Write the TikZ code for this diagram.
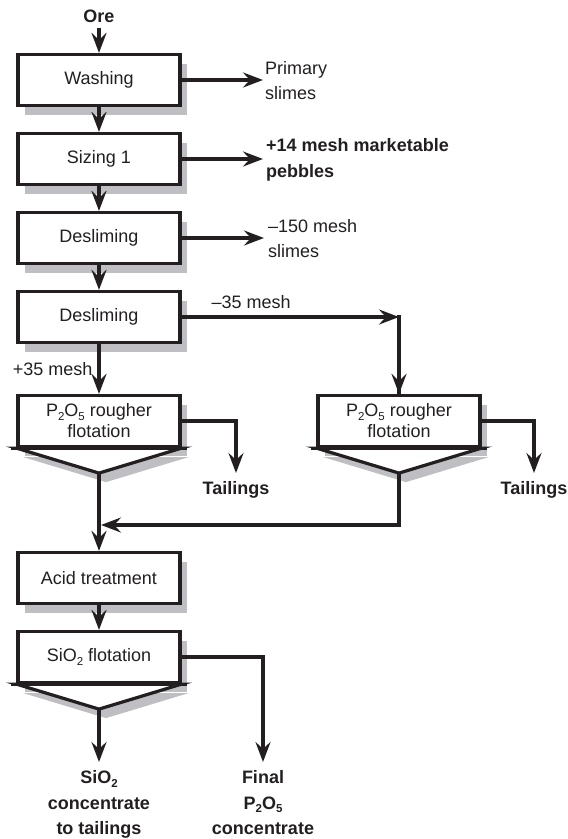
\documentclass[tikz,border=0pt]{standalone}
\usepackage{fontspec}
\setmainfont{Liberation Sans}
\usetikzlibrary{arrows.meta,shadows,calc}

\definecolor{ink}{RGB}{35,31,32}
\definecolor{shadowgrey}{RGB}{190,190,195}

% chemical subscript in the running font
\newcommand\chemsub[1]{\raisebox{-3.5pt}{\fontsize{11.5}{11.5}\selectfont #1}}

% V-shaped separator under a flotation cell: #1 = node name
\newcommand\flotcell[1]{%
  \coordinate (#1-apex) at ($(#1.south)+(0,25)$);
  \fill[shadowgrey] ($(#1.south west)+(7,9)$) -- ($(#1-apex)+(7,9)$)
        -- ($(#1.south east)+(7,9)$) -- cycle;
  \filldraw[fill=white, draw=ink, line width=3.2pt, line join=miter]
        (#1.south west) -- (#1-apex) -- (#1.south east) -- cycle;
  \draw[ink, line width=3.2pt] ($(#1.south west)+(-5,0)$) -- ($(#1.south east)+(5,0)$);
}

\begin{document}
\begin{tikzpicture}[x=1pt,y=-1pt,
  every node/.style={font=\fontsize{18}{21}\selectfont, text=ink},
  unit/.style={draw=ink, line width=3.2pt, fill=white,
    minimum width=162pt, minimum height=51pt, inner sep=0pt, align=center,
    drop shadow={shadow xshift=7pt, shadow yshift=-9pt, fill=shadowgrey, opacity=1}},
  flow/.style={draw=ink, line width=3.2pt,
    -{Stealth[length=20pt,width=15pt,inset=7pt]}},
  sidelbl/.style={align=left, anchor=west, inner sep=0pt,
    font=\fontsize{18}{25}\selectfont},
  outlbl/.style={align=center, anchor=north, inner sep=0pt,
    font=\bfseries\fontsize{18}{25.5}\selectfont},
]
\useasboundingbox (0,0) rectangle (568,839);

% feed
\node[outlbl] (ore) at (99,9.5) {Ore};

% main column of unit operations
\node[unit] (wash)  at (99,80)  {Washing};
\node[unit] (size)  at (99,159) {Sizing 1};
\node[unit] (desA)  at (99,238) {Desliming};
\node[unit] (desB)  at (99,317) {Desliming};
\node[unit] (roughL) at (99,421) {P\chemsub{2}O\chemsub{5} rougher\\flotation};
\node[unit] (roughR) at (399,421) {P\chemsub{2}O\chemsub{5} rougher\\flotation};
\node[unit] (acid)  at (99,578) {Acid treatment};
\node[unit] (silica) at (99,657) {SiO\chemsub{2} flotation};

\flotcell{roughL}
\flotcell{roughR}
\flotcell{silica}

% side products
\node[sidelbl] (prim) at (265,81) {Primary\\slimes};
\node[outlbl, anchor=west, align=left] (peb) at (266,160) {+14 mesh marketable\\pebbles};
\node[sidelbl] (slm) at (268,239) {–150 mesh\\slimes};
\node[outlbl] (tailL) at (236,481.5) {Tailings};
\node[outlbl] (tailR) at (534,481.5) {Tailings};
\node[outlbl] (sitail) at (99,770.5) {SiO\chemsub{2}\\concentrate\\to tailings};
\node[outlbl] (final) at (263,770.5) {Final\\P\chemsub{2}O\chemsub{5}\\concentrate};

% flows
\draw[flow, shorten <=5pt] (ore.south) -- (wash.north);
\draw[flow] (wash.south) -- (size.north);
\draw[flow] (size.south) -- (desA.north);
\draw[flow] (desA.south) -- (desB.north);
\draw[flow, shorten >=2pt] (wash.east) -- (wash.east -| prim.west);
\draw[flow, shorten >=3pt] (size.east) -- (size.east -| peb.west);
\draw[flow, shorten >=4pt] (desA.east) -- (desA.east -| slm.west);

\coordinate (fine) at (roughR.north |- desB.east);
\draw[flow] (desB.east) -- node[pos=0.32, above, inner sep=7pt] (m35) {–35 mesh} (fine);
\draw[ink, line width=3.2pt] ([yshift=1.6pt]fine) -- ([yshift=-1pt]roughR.north);
\draw[flow] (fine) -- (roughR.north);
\draw[flow] (desB.south) -- node[pos=0.5, left, inner sep=5pt] (p35) {+35 mesh} (roughL.north);

\draw[flow, shorten >=8.5pt] (roughL.east) -| (tailL.north);
\draw[flow, shorten >=8.5pt] (roughR.east) -| (tailR.north);

\coordinate (join) at (101,525);
\draw[flow] (roughR-apex) |- (join);
\draw[flow] (roughL-apex) -- (acid.north);
\draw[flow] (acid.south) -- (silica.north);

\draw[flow, shorten >=8.5pt] (silica-apex) -- (sitail.north);
\draw[flow, shorten >=8.5pt] (silica.east) -| (final.north);
\end{tikzpicture}
\end{document}
